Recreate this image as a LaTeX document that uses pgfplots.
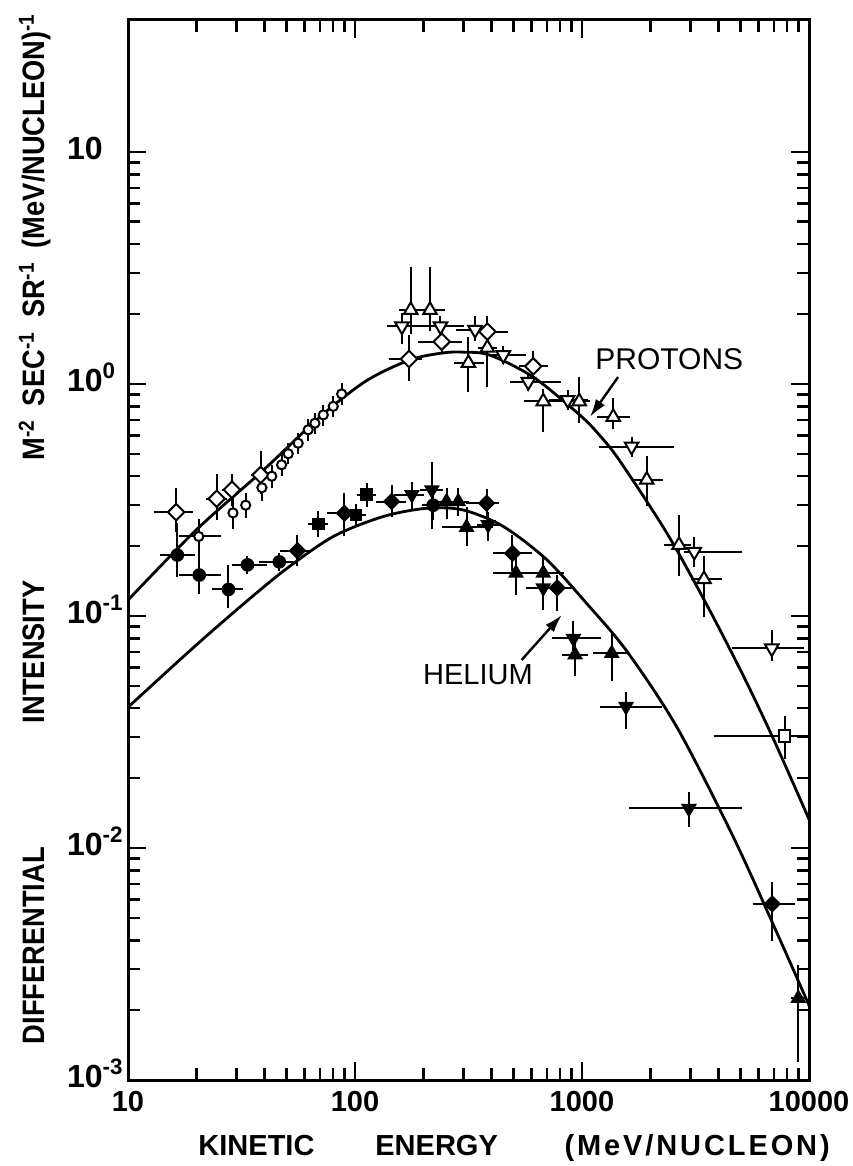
\documentclass[border=0pt]{standalone}
\usepackage{fontspec}
\setmainfont{Liberation Sans}
\usepackage{pgfplots}
\pgfplotsset{compat=1.18}
\usetikzlibrary{arrows.meta}

\pgfplotsset{
  errs/.style={only marks, black, line width=1pt,
    error bars/x dir=both, error bars/x explicit,
    error bars/y dir=both, error bars/y explicit,
    error bars/error bar style={line width=1pt},
    error bars/error mark options={line width=1pt, mark size=2.2pt, black}},
}

\begin{document}
\begin{tikzpicture}
\begin{axis}[
  xmode=log, ymode=log,
  xmin=10, xmax=10000, ymin=1e-3, ymax=37,
  scale only axis, width=340.5pt, height=530pt,
  axis line style={line width=1.5pt},
  tick style={line width=1.2pt, black},
  tick align=inside,
  major tick length=9pt, minor tick length=6pt,
  xtick={10,100,1000,10000},
  xticklabels={10,100,1000,10000},
  ytick={0.001,0.01,0.1,1,10},
  yticklabels={10\textsuperscript{-3},10\textsuperscript{-2},10\textsuperscript{-1},10\textsuperscript{0},10},
  xticklabel style={font=\fontsize{14.5}{16}\selectfont\bfseries, yshift=-2pt},
  yticklabel style={font=\fontsize{16}{18}\selectfont\bfseries, anchor=base west, xshift=-34pt, yshift=-0.36em},
  xlabel={KINETIC\hspace{2.1em}ENERGY\hspace{2.3em}{\addfontfeatures{LetterSpace=10}(MeV/NUCLEON)}},
  xlabel style={font=\fontsize{14.5}{16}\selectfont\bfseries, at={(axis description cs:0.567,-0.064)}, anchor=center},
  ylabel={DIFFERENTIAL\hspace{62pt}INTENSITY\hspace{60pt}M\textsuperscript{-2}\hspace{0.45em}SEC\textsuperscript{-1}\hspace{0.45em}SR\textsuperscript{-1}\hspace{0.45em}(MeV/NUCLEON)\textsuperscript{-1}},
  ylabel style={font=\fontsize{15.5}{17}\selectfont\bfseries\addfontfeatures{FakeStretch=0.88}, at={(axis description cs:-0.137,0.52)}, anchor=center},
]

% proton fit
\addplot[smooth, black, line width=1.4pt, no markers] coordinates {
  (10,0.117) (20,0.235) (40,0.43) (70,0.72) (112,1.03) (175,1.27) (245,1.36)
  (300,1.37) (393,1.33) (610,1.07) (980,0.733) (1200,0.598) (1469,0.465)
  (2362,0.228) (3540,0.112) (5138,0.0552) (6970,0.0295) (10000,0.0133)
};
% helium fit
\addplot[smooth, black, line width=1.4pt, no markers] coordinates {
  (10,0.0404) (16.6,0.0636) (22.5,0.083) (33.8,0.117) (50,0.16) (80.3,0.22)
  (133,0.268) (207,0.291) (300,0.286) (450,0.243) (698,0.175) (1050,0.113)
  (1572,0.0707) (2612,0.0333) (4630,0.0112) (7200,0.00434) (10000,0.0021)
};

% ---- protons ----
% open diamonds
\addplot[mark=square*, mark size=2.9pt, mark options={solid, fill=white, rotate=45, line width=1pt}, errs]
  table[x=x, y=y, x error minus=xm, x error plus=xp, y error minus=ym, y error plus=yp] {
x y xm xp ym yp
16.3 0.28 2.7 2.1 0.04 0.06
24.6 0.32 1.5 1.5 0.05 0.07
28.7 0.35 1.6 1.6 0.04 0.04
38.4 0.405 2.0 2.0 0.055 0.085
173 1.28 26 16 0.21 0.27
241 1.52 42 43 0.10 0.10
383 1.68 40 67 0.18 0.19
610 1.19 60 65 0.13 0.14
};
% open circles
\addplot[mark=*, mark size=2.3pt, mark options={solid, fill=white, line width=1pt}, errs]
  table[x=x, y=y, x error minus=xm, x error plus=xp, y error minus=ym, y error plus=yp] {
x y xm xp ym yp
20.5 0.22 3.0 4.1 0.045 0.03
29 0.278 0 0 0.031 0.029
33 0.30 0 0 0.025 0.025
38.9 0.357 0 0 0.03 0.03
43 0.40 0 0 0.03 0.03
47.5 0.448 0 0 0.03 0.03
50.8 0.50 0 0 0.03 0.03
56.2 0.555 0 0 0.035 0.035
62.2 0.634 0 0 0.04 0.04
66.6 0.677 0 0 0.04 0.04
72.5 0.735 0 0 0.045 0.045
80.2 0.80 0 0 0.05 0.05
87.3 0.905 0 0 0.06 0.06
};
% open triangles up
\addplot[mark=triangle*, mark size=3.9pt, mark options={solid, fill=white, line width=1pt}, errs]
  table[x=x, y=y, x error minus=xm, x error plus=xp, y error minus=ym, y error plus=yp] {
x y xm xp ym yp
176 2.08 12 12 0.37 0.97
214 2.08 25 25 0.32 0.97
316 1.23 32 39 0.27 0.29
383 1.43 20 20 0.42 0.12
675 0.84 95 110 0.19 0.07
972 0.84 60 60 0.13 0.18
1373 0.72 153 177 0.05 0.11
1928 0.386 188 242 0.076 0.084
2675 0.202 275 205 0.046 0.058
3447 0.144 277 513 0.041 0.030
};
% open triangles down
\addplot[mark=triangle*, mark size=3.9pt, mark options={solid, fill=white, rotate=180, line width=1pt}, errs]
  table[x=x, y=y, x error minus=xm, x error plus=xp, y error minus=ym, y error plus=yp] {
x y xm xp ym yp
161 1.77 16 32 0.22 0.16
238 1.77 58 51 0.10 0.10
338 1.71 48 55 0.11 0.16
450 1.33 30 90 0.06 0.06
580 1.02 75 190 0.05 0.05
865 0.853 115 150 0.05 0.05
1655 0.537 415 775 0.03 0.03
3123 0.189 173 1747 0.02 0.02
6856 0.0725 2056 2224 0.006 0.0105
};
% open square
\addplot[mark=square*, mark size=2.8pt, mark options={solid, fill=white, line width=1pt}, errs]
  table[x=x, y=y, x error minus=xm, x error plus=xp, y error minus=ym, y error plus=yp] {
x y xm xp ym yp
7830 0.0304 3860 2170 0.0051 0.0052
};

% ---- helium ----
% filled circles
\addplot[mark=*, mark size=2.9pt, mark options={solid, fill=black}, errs]
  table[x=x, y=y, x error minus=xm, x error plus=xp, y error minus=ym, y error plus=yp] {
x y xm xp ym yp
16.5 0.183 2.0 2.3 0.03 0.057
20.6 0.15 3.0 4.0 0.02 0.028
27.7 0.13 3.1 2.9 0.017 0.028
33.6 0.166 3.6 5.4 0.008 0.008
46.4 0.171 7.1 6.4 0.008 0.008
221 0.30 15 15 0.03 0.03
};
% filled diamonds
\addplot[mark=square*, mark size=2.6pt, mark options={solid, fill=black, rotate=45}, errs]
  table[x=x, y=y, x error minus=xm, x error plus=xp, y error minus=ym, y error plus=yp] {
x y xm xp ym yp
55.8 0.191 6.7 6.2 0.02 0.023
89.8 0.277 11 12 0.046 0.046
145 0.311 15 15 0.033 0.039
380 0.306 58 33 0.03 0.03
494 0.186 68 83 0.023 0.027
778 0.132 188 104 0.022 0.012
6890 0.00574 960 1400 0.0016 0.0011
};
% filled squares
\addplot[mark=square*, mark size=2.7pt, mark options={solid, fill=black}, errs]
  table[x=x, y=y, x error minus=xm, x error plus=xp, y error minus=ym, y error plus=yp] {
x y xm xp ym yp
68.8 0.249 4 4 0.021 0.021
101 0.272 6 6 0.02 0.02
112.4 0.333 6 6 0.025 0.025
};
% filled triangles up
\addplot[mark=triangle*, mark size=3.6pt, mark options={solid, fill=black}, errs]
  table[x=x, y=y, x error minus=xm, x error plus=xp, y error minus=ym, y error plus=yp] {
x y xm xp ym yp
253 0.311 25 28 0.039 0.029
285 0.311 20 20 0.03 0.03
310 0.241 56 76 0.032 0.041
512 0.153 86 88 0.025 0.021
675 0.153 85 122 0.02 0.02
932 0.068 80 80 0.0104 0.0084
1352 0.069 182 188 0.0143 0.012
8970 0.00225 300 300 0.001 0.00075
};
% filled triangles down
\addplot[mark=triangle*, mark size=3.6pt, mark options={solid, fill=black, rotate=180}, errs]
  table[x=x, y=y, x error minus=xm, x error plus=xp, y error minus=ym, y error plus=yp] {
x y xm xp ym yp
178 0.333 23 14 0.03 0.03
218 0.349 15 15 0.102 0.091
386 0.247 26 33 0.027 0.021
675 0.132 85 85 0.021 0.016
917 0.080 143 246 0.0075 0.0114
1563 0.0407 308 597 0.0068 0.0043
2958 0.0148 1268 1872 0.002 0.0019
};

% labels
\node[anchor=west, inner sep=0pt, font=\fontsize{15}{17}\selectfont] at (axis cs:1141,1.28) {PROTONS};
\draw[-{Latex[length=9pt,width=5.5pt]}, line width=1.2pt] (axis cs:1442,1.07) -- (axis cs:1084,0.72);
\node[inner sep=0pt, font=\fontsize{14.5}{16}\selectfont] at (axis cs:348,0.0557) {HELIUM};
\draw[-{Latex[length=9pt,width=5.5pt]}, line width=1.2pt] (axis cs:542,0.0646) -- (axis cs:815,0.101);

\coordinate (bl) at (rel axis cs:0,0);
\coordinate (tr) at (rel axis cs:1,1);
\end{axis}
\pgfresetboundingbox
\path ([xshift=-64pt,yshift=-43pt]bl) rectangle ([xshift=22pt,yshift=10pt]tr);
\end{tikzpicture}
\end{document}
